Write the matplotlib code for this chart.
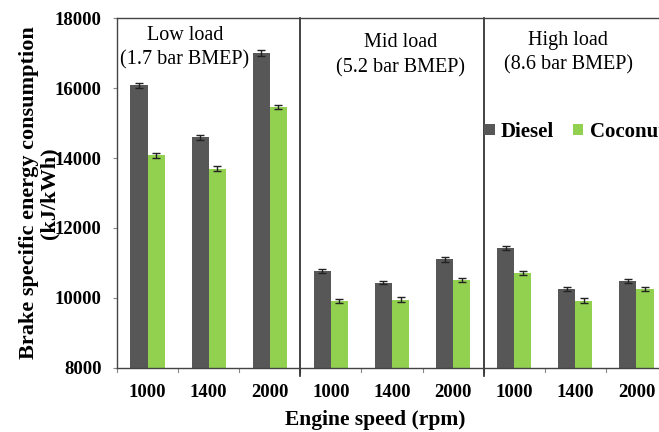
import matplotlib.pyplot as plt
import numpy as np

plt.rcParams['font.family'] = ['Liberation Serif', 'DejaVu Serif']

# data
speeds = ['1000', '1400', '2000']
loads = ['Low load\n(1.7 bar BMEP)', 'Mid load\n(5.2 bar BMEP)', 'High load\n(8.6 bar BMEP)']
diesel = [16080, 14600, 17010, 10770, 10435, 11105, 11430, 10245, 10485]
coconut = [14075, 13690, 15450, 9920, 9950, 10510, 10710, 9920, 10255]
diesel_err = [80, 70, 80, 50, 50, 70, 60, 60, 50]
coconut_err = [60, 70, 60, 60, 60, 50, 60, 70, 60]

fig = plt.figure(figsize=(6.59, 4.32), dpi=100)
ax = fig.add_axes([117 / 659, 1 - 367.7 / 432, 550 / 659, (367.7 - 18.3) / 432])

x = np.arange(len(diesel))
w = 0.28
ek = dict(ecolor='#222222', elinewidth=1, capsize=3, capthick=1)
ax.bar(x - w / 2, diesel, w, color='#575757', yerr=diesel_err, error_kw=ek, label='Diesel')
ax.bar(x + w / 2, coconut, w, color='#92D050', yerr=coconut_err, error_kw=ek, label='Coconut')

ax.set_xlim(-0.5, len(diesel) - 0.5)
ax.set_ylim(8000, 18000)
ax.set_yticks(range(8000, 18001, 2000))
ax.tick_params(axis='y', length=3, width=0.8, color='#888888', pad=8, labelsize=13.5)
ax.set_xticks(x)
ax.set_xticklabels(speeds * 3, fontsize=13.5, fontweight='bold')
ax.tick_params(axis='x', length=0, pad=12)
for lab in ax.get_yticklabels():
    lab.set_fontweight('bold')

# small ticks between categories, longer ones at the group separators
for b in np.arange(-0.5, len(diesel), 1.0):
    ax.plot([b, b], [8000, 7870], color='#888888', lw=0.8, clip_on=False)
for b in [2.5, 5.5]:
    ax.plot([b, b], [7750, 18000], color='#222222', lw=1.2, clip_on=False)

for s in ['left', 'bottom', 'top', 'right']:
    ax.spines[s].set_color('#444444')
    ax.spines[s].set_linewidth(1.0)

text_x = [0.61, 4.14, 6.88]
text_y = [17785, 17565, 17645]
for t, tx, ty in zip(loads, text_x, text_y):
    ax.text(tx, ty, t, ha='center', va='top', fontsize=14.5, linespacing=1.4)

# legend runs off the right edge, as in the source figure
ax.legend(loc='center left', bbox_to_anchor=(0.668, 0.675), ncol=2, frameon=False,
          prop={'weight': 'bold', 'size': 15}, handlelength=0.5, handleheight=0.5,
          handletextpad=0.3, columnspacing=0.9, borderaxespad=0, borderpad=0)

ax.set_xlabel('Engine speed (rpm)', fontsize=15.5, fontweight='bold', labelpad=6)
ax.xaxis.label.set_x(0.469)
ax.set_ylabel('Brake specific energy consumption\n(kJ/kWh)', fontsize=16,
              fontweight='bold', linespacing=1.0)
ax.yaxis.set_label_coords(-0.105, 0.5)

fig.savefig('out.png', dpi=100)
